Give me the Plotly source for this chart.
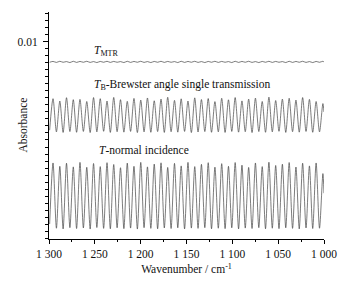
import plotly.graph_objects as go

# Fringe extrema positions (cm-1)
peak_x = [1295.6, 1288.2, 1280.9, 1273.5, 1266.2, 1258.8, 1251.4, 1244.1, 1236.7, 1229.4,
          1222.0, 1214.6, 1207.3, 1199.9, 1192.6, 1185.2, 1177.8, 1170.5, 1163.1, 1155.8,
          1148.4, 1141.0, 1133.7, 1126.3, 1119.0, 1111.6, 1104.2, 1096.9, 1089.5, 1082.2,
          1074.8, 1067.4, 1060.1, 1052.7, 1045.4, 1038.0, 1030.6, 1023.3, 1015.9, 1008.6,
          1001.2]
trough_x = [1299.3, 1291.9, 1284.6, 1277.2, 1269.9, 1262.5, 1255.1, 1247.8, 1240.4, 1233.1,
            1225.7, 1218.3, 1211.0, 1203.6, 1196.3, 1188.9, 1181.5, 1174.2, 1166.8, 1159.5,
            1152.1, 1144.7, 1137.4, 1130.0, 1122.7, 1115.3, 1107.9, 1100.6, 1093.2, 1085.9,
            1078.5, 1071.1, 1063.8, 1056.4, 1049.1, 1041.7, 1034.3, 1027.0, 1019.6, 1012.3,
            1004.9, 1000.0]

# T-normal incidence
normal_peaks = [0.00136, 0.00112, 0.00134, 0.00108, 0.00140, 0.00105, 0.00132, 0.00110, 0.00138, 0.00125,
                0.00102, 0.00135, 0.00112, 0.00140, 0.00108, 0.00128, 0.00137, 0.00104, 0.00133, 0.00115,
                0.00140, 0.00110, 0.00126, 0.00138, 0.00106, 0.00131, 0.00112, 0.00139, 0.00120, 0.00104,
                0.00136, 0.00110, 0.00141, 0.00118, 0.00127, 0.00139, 0.00107, 0.00134, 0.00115, 0.00136,
                0.00060]
normal_troughs = [-0.00300, -0.00330, -0.00335, -0.00326, -0.00332, -0.00328, -0.00336, -0.00325, -0.00331, -0.00334,
                  -0.00327, -0.00333, -0.00329, -0.00336, -0.00326, -0.00331, -0.00334, -0.00328, -0.00332, -0.00327,
                  -0.00335, -0.00329, -0.00331, -0.00326, -0.00334, -0.00330, -0.00333, -0.00327, -0.00335, -0.00329,
                  -0.00332, -0.00326, -0.00334, -0.00330, -0.00333, -0.00327, -0.00331, -0.00335, -0.00328, -0.00332,
                  -0.00330, -0.00080]

# T_B Brewster angle single transmission
brewster_peaks = [0.00595, 0.00578, 0.00602, 0.00588, 0.00590, 0.00575, 0.00603, 0.00595, 0.00578, 0.00604,
                  0.00588, 0.00576, 0.00597, 0.00585, 0.00600, 0.00580, 0.00592, 0.00605, 0.00583, 0.00594,
                  0.00578, 0.00601, 0.00589, 0.00596, 0.00574, 0.00598, 0.00587, 0.00603, 0.00579, 0.00592,
                  0.00599, 0.00575, 0.00606, 0.00582, 0.00592, 0.00598, 0.00585, 0.00603, 0.00590, 0.00575,
                  0.00560]
brewster_troughs = [0.00370, 0.00358, 0.00354, 0.00360, 0.00355, 0.00361, 0.00353, 0.00358, 0.00362, 0.00354,
                    0.00359, 0.00356, 0.00361, 0.00353, 0.00358, 0.00355, 0.00360, 0.00354, 0.00359, 0.00356,
                    0.00361, 0.00353, 0.00357, 0.00360, 0.00355, 0.00358, 0.00354, 0.00361, 0.00356, 0.00359,
                    0.00353, 0.00360, 0.00355, 0.00358, 0.00362, 0.00354, 0.00359, 0.00356, 0.00361, 0.00355,
                    0.00358, 0.00500]

# T_MTR
mtr_peaks = [0.00861, 0.00862, 0.00860, 0.00862, 0.00861, 0.00862, 0.00860, 0.00861, 0.00862, 0.00861,
             0.00860, 0.00862, 0.00861, 0.00862, 0.00860, 0.00861, 0.00862, 0.00861, 0.00860, 0.00862,
             0.00861, 0.00862, 0.00860, 0.00861, 0.00862, 0.00861, 0.00860, 0.00862, 0.00861, 0.00862,
             0.00860, 0.00861, 0.00862, 0.00861, 0.00860, 0.00862, 0.00861, 0.00862, 0.00860, 0.00861,
             0.00862]
mtr_troughs = [0.00855, 0.00854, 0.00855, 0.00853, 0.00854, 0.00855, 0.00854, 0.00853, 0.00855, 0.00854,
               0.00855, 0.00853, 0.00854, 0.00855, 0.00854, 0.00853, 0.00855, 0.00854, 0.00855, 0.00853,
               0.00854, 0.00855, 0.00854, 0.00853, 0.00855, 0.00854, 0.00855, 0.00853, 0.00854, 0.00855,
               0.00854, 0.00853, 0.00855, 0.00854, 0.00855, 0.00853, 0.00854, 0.00855, 0.00854, 0.00853,
               0.00855, 0.00857]

x_tickvals = [1300, 1250, 1200, 1150, 1100, 1050, 1000]
x_ticktext = ["1 300", "1 250", "1 200", "1 150", "1 100", "1 050", "1 000"]
y_tickvals = [0.01]
y_ticktext = ["0.01"]

FONT = "Liberation Serif"


def build(peaks, troughs):
    xs, ys = [], []
    for i in range(len(peak_x)):
        xs += [trough_x[i], peak_x[i]]
        ys += [troughs[i], peaks[i]]
    xs.append(trough_x[-1])
    ys.append(troughs[-1])
    return xs, ys


fig = go.Figure()
for pk, tr in [(normal_peaks, normal_troughs), (brewster_peaks, brewster_troughs), (mtr_peaks, mtr_troughs)]:
    xs, ys = build(pk, tr)
    fig.add_trace(go.Scatter(x=xs, y=ys, mode="lines",
                             line=dict(color="#444444", width=0.7, shape="spline", smoothing=0.8),
                             showlegend=False, hoverinfo="skip"))

ann_font = dict(family=FONT, size=11.5, color="#111")
fig.add_annotation(x=1253, y=0.00936, xref="x", yref="y", text="<i>T</i><sub>MTR</sub>",
                   showarrow=False, xanchor="left", yanchor="middle", font=ann_font)
fig.add_annotation(x=1253, y=0.00693, xref="x", yref="y",
                   text="<i>T</i><sub>B</sub>-Brewster angle single transmission",
                   showarrow=False, xanchor="left", yanchor="middle", font=ann_font)
fig.add_annotation(x=1247.6, y=0.00229, xref="x", yref="y", text="<i>T</i>-normal incidence",
                   showarrow=False, xanchor="left", yanchor="middle", font=ann_font)
# y-axis title
fig.add_annotation(x=-0.098, y=0.5, xref="paper", yref="paper", text="Absorbance", textangle=-90,
                   showarrow=False, xanchor="center", yanchor="middle",
                   font=dict(family=FONT, size=11.5, color="#111"))

fig.update_layout(
    width=348, height=282,
    margin=dict(l=49, r=24, t=12, b=43),
    paper_bgcolor="white", plot_bgcolor="white",
    font=dict(family=FONT, size=11.5, color="#111"),
    xaxis=dict(range=[1300, 1000], tickmode="array", tickvals=x_tickvals, ticktext=x_ticktext,
               automargin=False,
               showgrid=False, zeroline=False, showline=True, linecolor="black", linewidth=1,
               ticks="outside", ticklen=4, tickcolor="black", tickwidth=1,
               minor=dict(dtick=25, tick0=1000, ticks="outside", ticklen=2, tickcolor="black", showgrid=False),
               title=dict(text="Wavenumber / cm<sup>-1</sup>", font=dict(family=FONT, size=11.5), standoff=6)),
    yaxis=dict(range=[-0.00407, 0.01214], tickmode="array", tickvals=y_tickvals, ticktext=y_ticktext,
               automargin=False, ticklabelstandoff=3,
               showgrid=False, zeroline=False, showline=True, linecolor="black", linewidth=1,
               ticks="outside", ticklen=5, tickcolor="black", tickwidth=1,
               minor=dict(dtick=0.0005, tick0=0, ticks="outside", ticklen=3, tickcolor="black", showgrid=False)),
)

fig.write_html("out.html", config={"displayModeBar": False},
               post_script="document.body.style.margin='0px';")
